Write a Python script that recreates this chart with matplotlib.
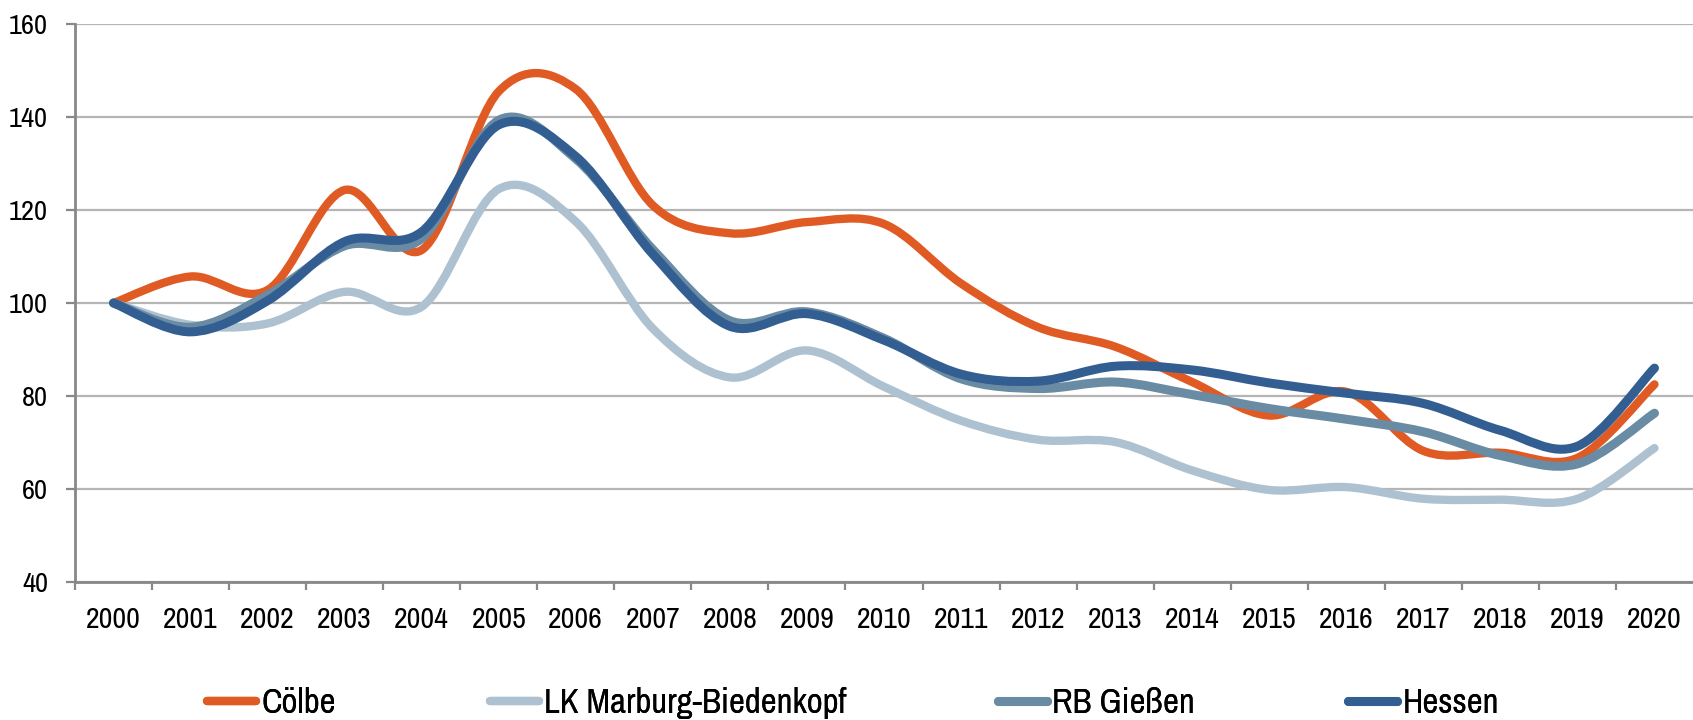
import numpy as np
import matplotlib
matplotlib.use("Agg")
import matplotlib.pyplot as plt
from matplotlib.path import Path
from matplotlib.patches import PathPatch
from matplotlib.lines import Line2D

plt.rcParams['font.family'] = ['Archivo Narrow', 'Roboto Condensed', 'Liberation Sans', 'DejaVu Sans']

years = [str(y) for y in range(2000, 2021)]
coelbe = [100, 105.7, 102.8, 124.3, 111.4, 145.5, 146.0, 121.0, 115.0, 117.4, 117.0,
          104.2, 94.8, 90.6, 83.0, 75.8, 80.9, 68.2, 67.8, 66.7, 82.5]
lk_marburg = [100, 95.3, 95.6, 102.4, 99.2, 124.5, 117.5, 94.5, 84.0, 89.8, 82.0,
              74.7, 70.6, 70.1, 64.0, 59.8, 60.4, 57.9, 57.7, 57.9, 68.8]
rb_giessen = [100, 94.8, 101.7, 112.3, 113.9, 139.3, 131.0, 111.5, 96.2, 98.1, 92.4,
              83.7, 81.6, 83.0, 80.3, 77.3, 75.0, 72.3, 67.2, 65.4, 76.3]
hessen = [100, 93.8, 100.5, 113.2, 115.3, 138.3, 131.5, 110.5, 95.0, 97.7, 92.0,
          84.7, 83.2, 86.4, 85.6, 82.8, 80.6, 78.4, 72.6, 69.2, 86.0]

names = ['Cölbe', 'LK Marburg-Biedenkopf', 'RB Gießen', 'Hessen']
series = [coelbe, lk_marburg, rb_giessen, hessen]
colors = ['#E05A24', '#ADC1D0', '#6A8BA4', '#335E91']
widths = [6.0, 6.0, 6.5, 6.5]
legend_x = [207 / 1693, 490 / 1693, 998 / 1693, 1348 / 1693]


def smooth_path(xs, ys):
    """Excel-style smoothed line: Catmull-Rom converted to cubic Bezier segments."""
    pts = np.column_stack([xs, ys]).astype(float)
    n = len(pts)
    verts = [pts[0]]
    codes = [Path.MOVETO]
    for i in range(n - 1):
        p0 = pts[i - 1] if i > 0 else pts[i]
        p1 = pts[i]
        p2 = pts[i + 1]
        p3 = pts[i + 2] if i + 2 < n else pts[i + 1]
        c1 = p1 + (p2 - p0) / 6.0
        c2 = p2 - (p3 - p1) / 6.0
        verts += [c1, c2, p2]
        codes += [Path.CURVE4] * 3
    return Path(verts, codes)


fig = plt.figure(figsize=(16.93, 7.2), dpi=100)
ax = fig.add_axes([75 / 1693, 1 - 582 / 720, 1 - 75 / 1693, (582 - 24) / 720])

x = np.arange(len(years))
for vals, col, lw in zip(series, colors, widths):
    patch = PathPatch(smooth_path(x, vals), facecolor='none', edgecolor=col,
                      linewidth=lw, capstyle='round', joinstyle='round', zorder=3)
    ax.add_patch(patch)

ax.set_xlim(-0.5, len(years) - 0.5)
ax.set_ylim(40, 160)
ax.set_yticks(np.arange(40, 161, 20))
ax.set_xticks(x)
ax.set_xticklabels(years)
ax.set_xticks(np.arange(-0.5, len(years) - 1, 1), minor=True)

ax.tick_params(axis='x', which='major', length=0, pad=17, labelsize=21.5, colors='black')
ax.tick_params(axis='x', which='minor', length=6, width=1.6, color='#888888', direction='out')
ax.tick_params(axis='y', which='major', length=6.5, width=1.6, color='#888888', pad=13,
               labelsize=20.5, labelcolor='black')

ax.yaxis.grid(True, color='#b5b5b5', linewidth=1.6, zorder=0)
ax.set_axisbelow(True)
for s in ['top', 'right']:
    ax.spines[s].set_visible(False)
for s in ['left', 'bottom']:
    ax.spines[s].set_color('#888888')
    ax.spines[s].set_linewidth(2)

for name, col, lw, lx in zip(names, colors, widths, legend_x):
    h = Line2D([0], [0], color=col, lw=lw, solid_capstyle='round')
    leg = fig.legend([h], [name], loc='center left', bbox_to_anchor=(lx, 0.024), frameon=False,
                     fontsize=25, handlelength=1.41, handletextpad=0.15,
                     borderaxespad=0, borderpad=0)
    fig.add_artist(leg)

fig.savefig('out.png', dpi=100)
